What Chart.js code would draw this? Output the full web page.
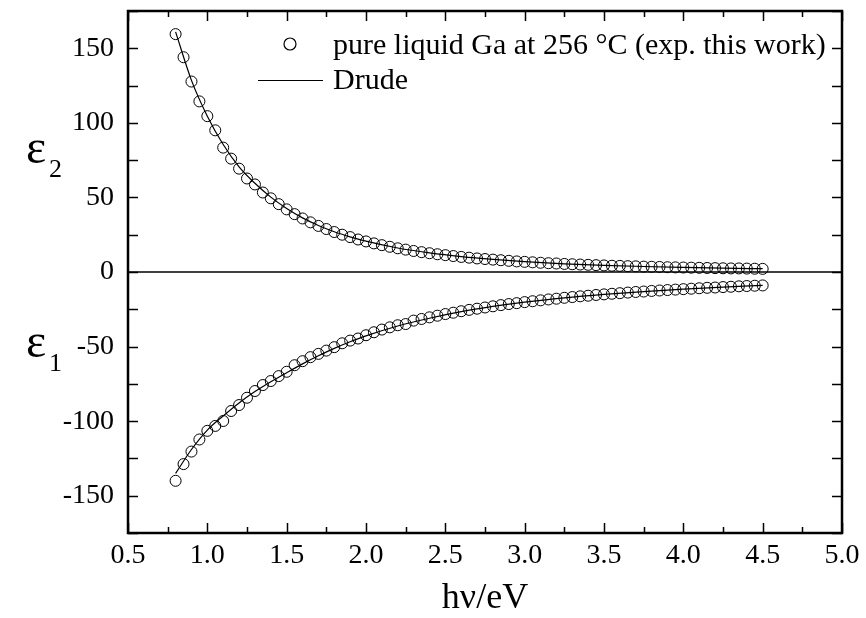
<!DOCTYPE html>
<html>
<head>
<meta charset="utf-8">
<script src="https://cdn.jsdelivr.net/npm/chart.js@4/dist/chart.umd.min.js"></script>
<style>
html,body{margin:0;padding:0;background:#fff;}
#wrap{width:866px;height:618px;position:relative;}
</style>
</head>
<body>
<div id="wrap"><canvas id="c" width="866" height="618"></canvas></div>
<script>
// ---- data ----
const energy = [0.80,0.85,0.90,0.95,1.00,1.05,1.10,1.15,1.20,1.25,1.30,1.35,1.40,1.45,1.50,1.55,1.60,1.65,1.70,1.75,1.80,1.85,1.90,1.95,2.00,2.05,2.10,2.15,2.20,2.25,2.30,2.35,2.40,2.45,2.50,2.55,2.60,2.65,2.70,2.75,2.80,2.85,2.90,2.95,3.00,3.05,3.10,3.15,3.20,3.25,3.30,3.35,3.40,3.45,3.50,3.55,3.60,3.65,3.70,3.75,3.80,3.85,3.90,3.95,4.00,4.05,4.10,4.15,4.20,4.25,4.30,4.35,4.40,4.45,4.50];
const eps2Exp = [159.5,144,127.7,114.4,104.5,95,83.4,76,69.3,62.7,58.7,53.3,49.4,45.5,42.0,38.8,35.9,33.3,30.9,28.8,26.8,25.0,23.4,21.8,20.5,19.2,18.0,16.9,15.9,15.0,14.1,13.3,12.6,11.9,11.3,10.7,10.1,9.6,9.1,8.7,8.3,7.9,7.5,7.1,6.8,6.5,6.2,5.9,5.7,5.4,5.2,5.0,4.8,4.6,4.4,4.2,4.1,3.9,3.8,3.6,3.5,3.4,3.2,3.1,3.0,2.9,2.8,2.7,2.6,2.5,2.4,2.4,2.3,2.2,2.1];
const eps1Exp = [-140,-128.8,-120.4,-112.3,-106.5,-103.2,-99.9,-93.2,-89.2,-84.3,-79.8,-75.8,-73.1,-69.8,-66.9,-62.5,-59.8,-57.1,-54.9,-52.7,-50.4,-47.8,-46.0,-44.6,-42.4,-40.4,-38.6,-37.1,-35.7,-34.9,-32.6,-31.5,-30.4,-29.3,-28.2,-27.3,-26.3,-25.4,-24.6,-23.8,-23.0,-22.2,-21.5,-20.9,-20.2,-19.6,-19.0,-18.4,-17.9,-17.3,-16.8,-16.3,-15.9,-15.4,-15.0,-14.6,-14.2,-13.8,-13.4,-13.1,-12.7,-12.4,-12.1,-11.8,-11.5,-11.2,-10.9,-10.6,-10.4,-10.1,-9.9,-9.6,-9.4,-9.2,-9.0];
const drudeEnergy = [0.8,0.9,1.0,1.1,1.2,1.3,1.4,1.5,1.6,1.7,1.8,1.9,2.0,2.2,2.4,2.6,2.8,3.0,3.25,3.5,3.75,4.0,4.25,4.5];
const drudeEps2 = [161,128.5,104.5,85.5,70.5,59.5,50.2,42.6,36.3,31.2,27.0,23.6,20.7,16.1,12.8,10.3,8.4,6.9,5.5,4.5,3.7,3.1,2.6,2.2];
const drudeEps1 = [-135,-119,-106,-96.5,-87.8,-80.2,-73.6,-67.5,-61.6,-56.2,-51.2,-46.8,-42.8,-36.2,-31.0,-26.6,-23.1,-20.2,-17.3,-15.0,-13.1,-11.5,-10.1,-9.0];
const zeroLine = [0, 0];
const zeroLineEnergy = [0.5, 5.0];
const xMajorTicks = [0.5,1.0,1.5,2.0,2.5,3.0,3.5,4.0,4.5,5.0];
const xMinorTicks = [0.75,1.25,1.75,2.25,2.75,3.25,3.75,4.25,4.75];
const yMajorTicks = [-150,-100,-50,0,50,100,150];
const yMinorTicks = [-175,-125,-75,-25,25,75,125,175];
const xTitle = 'hν/eV';
const legendExp = 'pure liquid Ga at 256 °C (exp. this work)';
const legendDrude = 'Drude';

const FONT = "'Liberation Serif','Times New Roman',serif";
Chart.defaults.font.family = FONT;
Chart.defaults.color = '#000';

const pts = (xs, ys) => xs.map((x, i) => ({x, y: ys[i]}));

const frame = {
  id: 'frame',
  afterDatasetsDraw(chart) {
    const {ctx, chartArea: {left, right, top, bottom}, scales: {x, y}} = chart;
    ctx.save();
    ctx.strokeStyle = '#000';
    ctx.lineWidth = 1.5;
    ctx.beginPath();
    const xt = (v, len) => {
      const p = Math.round(x.getPixelForValue(v)) + 0.5;
      ctx.moveTo(p, bottom); ctx.lineTo(p, bottom - len);
      ctx.moveTo(p, top); ctx.lineTo(p, top + len);
    };
    const yt = (v, len) => {
      const p = Math.round(y.getPixelForValue(v)) + 0.5;
      ctx.moveTo(left, p); ctx.lineTo(left + len, p);
      ctx.moveTo(right, p); ctx.lineTo(right - len, p);
    };
    xMajorTicks.forEach(v => xt(v, 10));
    xMinorTicks.forEach(v => xt(v, 6));
    yMajorTicks.forEach(v => yt(v, 10));
    yMinorTicks.forEach(v => yt(v, 10));
    ctx.stroke();
    ctx.lineWidth = 2.5;
    ctx.strokeRect(left, top, right - left, bottom - top);
    // legend
    ctx.lineWidth = 1.2;
    ctx.beginPath();
    ctx.arc(290, 44, 6, 0, Math.PI * 2);
    ctx.stroke();
    ctx.beginPath();
    ctx.moveTo(258, 80.5); ctx.lineTo(323, 80.5);
    ctx.stroke();
    ctx.fillStyle = '#000';
    ctx.font = '30px ' + FONT;
    ctx.textBaseline = 'alphabetic';
    ctx.textAlign = 'left';
    ctx.fillText(legendExp, 333, 54);
    ctx.fillText(legendDrude, 333, 89);
    // y labels epsilon
    ctx.font = '48px ' + FONT;
    ctx.fillText('ε', 26, 163);
    ctx.fillText('ε', 26, 357);
    ctx.font = '26px ' + FONT;
    ctx.fillText('2', 49, 177);
    ctx.fillText('1', 49, 371);
    ctx.restore();
  }
};

new Chart(document.getElementById('c'), {
  type: 'scatter',
  data: {
    datasets: [
      {label: 'zero', data: pts(zeroLineEnergy, zeroLine), showLine: true, borderColor: '#000', borderWidth: 1.3, pointRadius: 0},
      {label: 'Drude e2', data: pts(drudeEnergy, drudeEps2), showLine: true, borderColor: '#000', borderWidth: 1.2, pointRadius: 0, cubicInterpolationMode: 'monotone'},
      {label: 'Drude e1', data: pts(drudeEnergy, drudeEps1), showLine: true, borderColor: '#000', borderWidth: 1.2, pointRadius: 0, cubicInterpolationMode: 'monotone'},
      {label: 'exp e2', data: pts(energy, eps2Exp), showLine: false, pointStyle: 'circle', pointRadius: 5.5, pointBorderWidth: 1, pointBorderColor: '#000', pointBackgroundColor: 'rgba(0,0,0,0)'},
      {label: 'exp e1', data: pts(energy, eps1Exp), showLine: false, pointStyle: 'circle', pointRadius: 5.5, pointBorderWidth: 1, pointBorderColor: '#000', pointBackgroundColor: 'rgba(0,0,0,0)'}
    ]
  },
  options: {
    responsive: false,
    animation: false,
    devicePixelRatio: 1,
    layout: {padding: {left: 0, right: 24, top: 11, bottom: 0}},
    plugins: {legend: {display: false}, tooltip: {enabled: false}},
    scales: {
      x: {
        type: 'linear', min: 0.5, max: 5.0,
        afterBuildTicks: s => { s.ticks = xMajorTicks.map(v => ({value: v})); },
        afterFit: s => { s.height = 85; s.paddingLeft = 0; s.paddingRight = 0; },
        grid: {display: false, drawTicks: false},
        border: {display: false},
        ticks: {padding: 6, font: {size: 28}, maxRotation: 0, autoSkip: false, callback: v => Number(v).toFixed(1)},
        title: {display: true, text: xTitle, font: {size: 36}, padding: {top: 0, bottom: -2}}
      },
      y: {
        type: 'linear', min: -175, max: 175,
        afterBuildTicks: s => { s.ticks = yMajorTicks.map(v => ({value: v})); },
        afterFit: s => { s.width = 128; s.paddingTop = 0; s.paddingBottom = 0; },
        grid: {display: false, drawTicks: false},
        border: {display: false},
        ticks: {padding: 14, font: {size: 28}, autoSkip: false, callback: v => String(v)}
      }
    }
  },
  plugins: [frame]
});
</script>
</body>
</html>
